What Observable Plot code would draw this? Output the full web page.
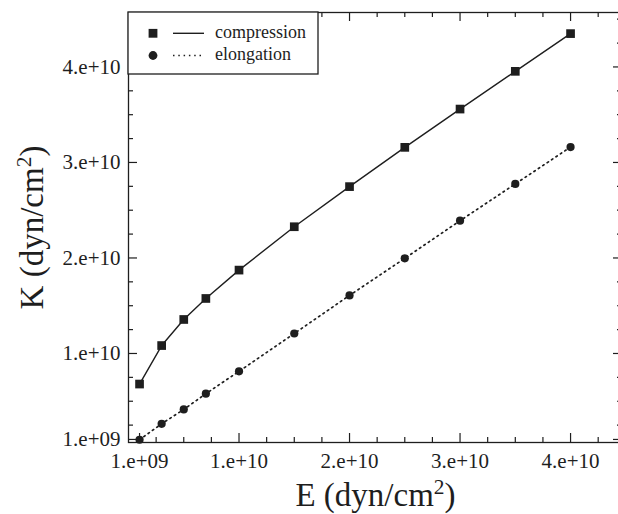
<!DOCTYPE html>
<html>
<head>
<meta charset="utf-8">
<script src="https://cdn.jsdelivr.net/npm/d3@7"></script>
<script src="https://cdn.jsdelivr.net/npm/@observablehq/plot@0.6"></script>
<style>
  body { margin: 0; background: #fff; overflow: hidden; }
  #wrap { position: relative; width: 618px; height: 514px; overflow: hidden; background: #fff; }
  #legend { position: absolute; left: 127px; top: 11px; }
</style>
</head>
<body>
<div id="wrap"></div>
<script>
// Data
const E = [1e9, 3e9, 5e9, 7e9, 1e10, 1.5e10, 2e10, 2.5e10, 3e10, 3.5e10, 4e10];
const compression = [6.8e9, 1.083e10, 1.356e10, 1.576e10, 1.873e10, 2.327e10, 2.747e10, 3.158e10, 3.559e10, 3.954e10, 4.349e10];
const elongation = [0.97e9, 2.64e9, 4.14e9, 5.79e9, 8.13e9, 1.209e10, 1.608e10, 1.996e10, 2.39e10, 2.775e10, 3.161e10];
const seriesNames = ["compression", "elongation"];
const majorTicks = [1e9, 1e10, 2e10, 3e10, 4e10];
const tickLabels = ["1.e+09", "1.e+10", "2.e+10", "3.e+10", "4.e+10"];
const xMinorTicks = [2.5e9, 5e9, 7.5e9, 1.25e10, 1.5e10, 1.75e10, 2.25e10, 2.5e10, 2.75e10, 3.25e10, 3.5e10, 3.75e10, 4.25e10];
const yMinorTicks = [2.5e9, 5e9, 7.5e9, 1.25e10, 1.5e10, 1.75e10, 2.25e10, 2.5e10, 2.75e10, 3.25e10, 3.5e10, 3.75e10, 4.25e10, 4.5e10];
const xTitle = "E (dyn/cm²)";
const yTitle = "K (dyn/cm²)";

const ink = "#1e1e1e";
const W = 618, H = 514, mL = 128, mR = -4, mT = 12, mB = 72;
const innerW = W - mL - mR, innerH = H - mT - mB;
const majorLen = 9, minorLen = 5;
const titleSize = 33;
const fmt = d => tickLabels[majorTicks.indexOf(d)];
const compData = E.map((e, i) => ({E: e, K: compression[i]}));
const elongData = E.map((e, i) => ({E: e, K: elongation[i]}));

// inward tick marks on all four sides
const tickStyle = {stroke: ink, strokeWidth: 1.2};
const tickMarks = [
  Plot.tickX(majorTicks, {x: d => d, insetTop: innerH - majorLen, ...tickStyle}),
  Plot.tickX(xMinorTicks, {x: d => d, insetTop: innerH - minorLen, ...tickStyle}),
  Plot.tickX(majorTicks, {x: d => d, insetBottom: innerH - majorLen, ...tickStyle}),
  Plot.tickX(xMinorTicks, {x: d => d, insetBottom: innerH - minorLen, ...tickStyle}),
  Plot.tickY(majorTicks, {y: d => d, insetRight: innerW - majorLen, ...tickStyle}),
  Plot.tickY(yMinorTicks, {y: d => d, insetRight: innerW - minorLen, ...tickStyle}),
  Plot.tickY(majorTicks, {y: d => d, insetLeft: innerW - majorLen, ...tickStyle}),
  Plot.tickY(yMinorTicks, {y: d => d, insetLeft: innerW - minorLen, ...tickStyle})
];

const chart = Plot.plot({
  width: W,
  height: H,
  marginLeft: mL,
  marginRight: mR,
  marginTop: mT,
  marginBottom: mB,
  x: {domain: [0, 4.47e10], axis: null, label: null},
  y: {domain: [6.8e8, 4.57e10], axis: null, label: null},
  style: {fontFamily: "'Liberation Serif', serif", color: ink, background: "transparent"},
  marks: [
    Plot.frame({stroke: ink, strokeWidth: 1.3}),
    ...tickMarks,
    Plot.axisX({anchor: "bottom", ticks: majorTicks, tickSize: 0, tickPadding: 11, tickFormat: fmt, fontSize: 21, label: null, fill: ink}),
    Plot.axisY({anchor: "left", ticks: majorTicks, tickSize: 0, tickPadding: 8, tickFormat: fmt, fontSize: 21, label: null, fill: ink}),
    Plot.line(compData, {x: "E", y: "K", stroke: ink, strokeWidth: 1.4}),
    Plot.line(elongData, {x: "E", y: "K", stroke: ink, strokeWidth: 1.7, strokeDasharray: "1.5,3.8"}),
    Plot.dot(compData, {x: "E", y: "K", symbol: "square", r: 4.9, fill: ink, stroke: "none"}),
    Plot.dot(elongData, {x: "E", y: "K", r: 4.1, fill: ink, stroke: "none"}),
    Plot.text([xTitle], {frameAnchor: "bottom", dy: 53, fontSize: titleSize, textAnchor: "middle", lineAnchor: "middle", fill: ink}),
    Plot.text([yTitle], {frameAnchor: "left", dx: -96, dy: 0, rotate: -90, fontSize: titleSize, textAnchor: "middle", lineAnchor: "middle", fill: ink})
  ]
});
document.getElementById("wrap").appendChild(chart);

// Typeset the unit exponent as a raised superscript
d3.select(chart).selectAll("text")
  .filter(function() { return this.textContent === xTitle || this.textContent === yTitle; })
  .each(function() {
    const full = this.textContent;
    const t = d3.select(this).text("");
    const rise = titleSize * 0.36;
    t.append("tspan").text(full.slice(0, full.indexOf("²")));
    t.append("tspan").attr("dy", -rise).attr("font-size", titleSize * 0.65).text("2");
    t.append("tspan").attr("dy", rise).text(")");
  });

// Legend box (inside the plot, top-left corner)
const lg = d3.select("#wrap").append("svg").attr("id", "legend").attr("width", 192).attr("height", 64);
lg.append("rect").attr("x", 1).attr("y", 1).attr("width", 190).attr("height", 62)
  .attr("fill", "#fff").attr("stroke", ink).attr("stroke-width", 1.3);
const rowsY = [22.3, 44.5];
seriesNames.forEach((name, i) => {
  const y = rowsY[i];
  if (i === 0) {
    lg.append("rect").attr("x", 26 - 4.4).attr("y", y - 4.4).attr("width", 8.8).attr("height", 8.8).attr("fill", ink);
    lg.append("line").attr("x1", 46).attr("x2", 77).attr("y1", y).attr("y2", y).attr("stroke", ink).attr("stroke-width", 1.4);
  } else {
    lg.append("circle").attr("cx", 26).attr("cy", y).attr("r", 4.4).attr("fill", ink);
    lg.append("line").attr("x1", 46).attr("x2", 77).attr("y1", y).attr("y2", y).attr("stroke", ink).attr("stroke-width", 1.7).attr("stroke-dasharray", "1.5,3.8");
  }
  lg.append("text").attr("x", 88).attr("y", y + 4.6).style("font-family", "'Liberation Serif', serif")
    .attr("font-size", 18).attr("fill", ink).text(name);
});
</script>
</body>
</html>
